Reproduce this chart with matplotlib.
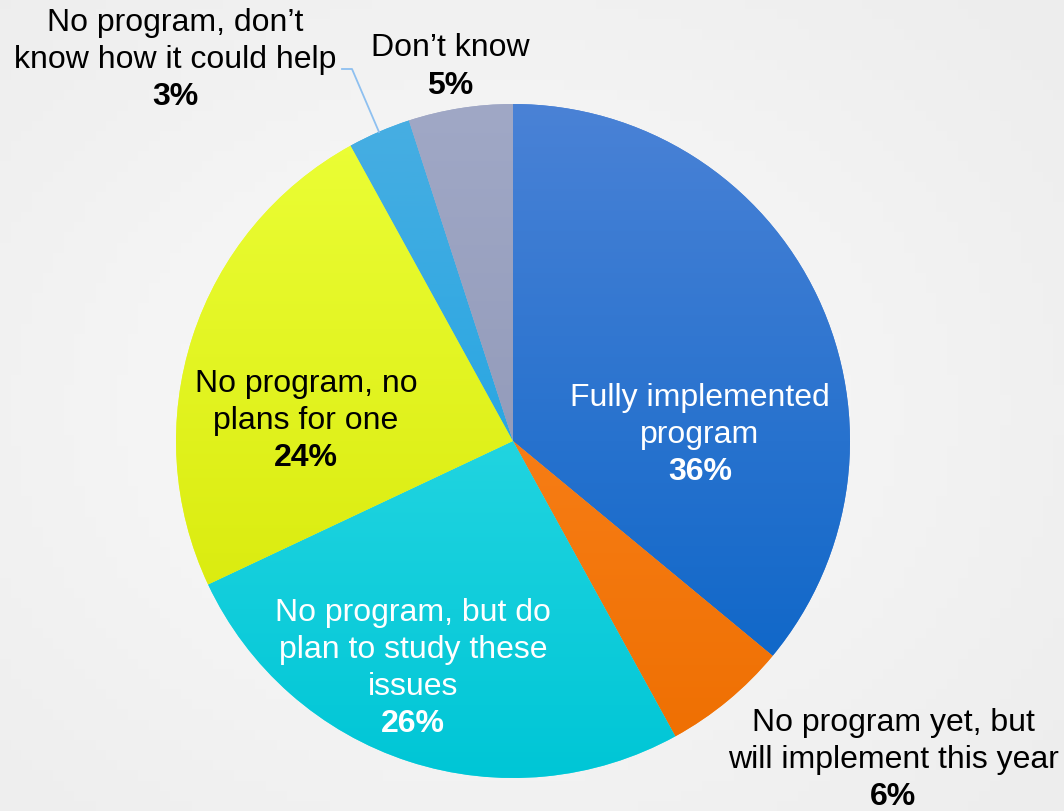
import numpy as np
import matplotlib.pyplot as plt
from matplotlib.colors import LinearSegmentedColormap

plt.rcParams['font.family'] = ['Liberation Sans', 'DejaVu Sans']

labels = ['Fully implemented\nprogram',
          'No program yet, but\nwill implement this year',
          'No program, but do\nplan to study these\nissues',
          'No program, no\nplans for one',
          'No program, don\u2019t\nknow how it could help',
          'Don\u2019t know']
values = [36, 6, 26, 24, 3, 5]
top_colors = ['#4a82d6', '#ff8c2a', '#42e2ea', '#ecff38', '#48aee2', '#a0a8c6']
bottom_colors = ['#0462c6', '#ee6e00', '#00c6d6', '#d4e400', '#0ca0e2', '#8890b0']

W, H = 1064, 812
fig = plt.figure(figsize=(W / 100, H / 100), dpi=100)
fig.patch.set_facecolor('#f1f1f1')
ax = fig.add_axes([0, 0, 1, 1])
ax.set_facecolor('#f1f1f1')

# soft light background patch
yy, xx = np.mgrid[0:80, 0:100]
bg = np.exp(-(((xx - 45) / 60.0) ** 2 + ((yy - 40) / 50.0) ** 2))
bgcmap = LinearSegmentedColormap.from_list('bg', ['#ededed', '#f8f8f8'])
ax.imshow(bg, extent=[0, W, 0, H], cmap=bgcmap, aspect='auto', zorder=0)

cx, cy, r = 513, H - 442, 337
wedges, _ = ax.pie(values, startangle=90, counterclock=False, center=(cx, cy),
                   radius=r, colors=top_colors, frame=True,
                   wedgeprops=dict(linewidth=0))

grad = np.linspace(0, 1, 256).reshape(-1, 1)
for w, c1, c2 in zip(wedges, top_colors, bottom_colors):
    cm = LinearSegmentedColormap.from_list('g', [c1, c2])
    im = ax.imshow(grad, extent=[cx - r, cx + r, cy - r, cy + r], origin='upper',
                   cmap=cm, aspect='auto', zorder=2)
    im.set_clip_path(w)

ax.set_xlim(0, W)
ax.set_ylim(0, H)
ax.set_aspect('auto')
ax.axis('off')

fs = 23
pos = [(700, 435, 'white'), (893, 760, 'black'), (413, 669, 'white'),
       (306, 421, 'black'), (175, 60, 'black'), (450, 67, 'black')]
for lab, v, (x, y, col) in zip(labels, values, pos):
    nlines = lab.count('\n') + 2
    step = 37
    y0 = y - step * (nlines - 1) / 2
    for i, line in enumerate(lab.split('\n')):
        ax.text(x, H - (y0 + i * step), line, ha='center', va='center',
                fontsize=fs, color=col, zorder=5)
    ax.text(x, H - (y0 + (nlines - 1) * step), f'{v}%', ha='center', va='center',
            fontsize=fs, color=col, fontweight='bold', zorder=5)

# leader line for the 3% slice
ax.plot([342, 352, 379], [H - 70, H - 70, H - 133], color='#8ec0f0', lw=1.3, zorder=3)

fig.savefig('out.png', dpi=100, facecolor=fig.get_facecolor())
